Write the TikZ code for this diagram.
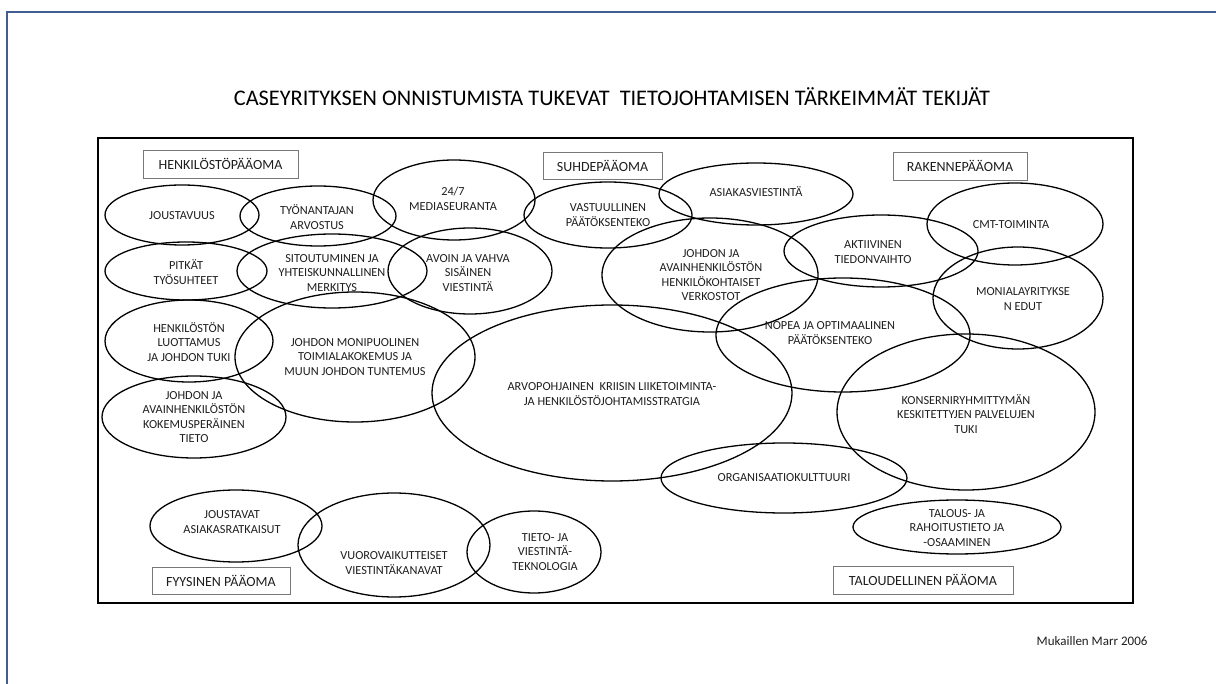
\documentclass[tikz,border=0pt]{standalone}
\usepackage{fontspec}
\setmainfont{Carlito}
\usetikzlibrary{shapes.geometric}
\definecolor{slideline}{RGB}{68,93,145}
\definecolor{txt}{RGB}{30,30,30}
\definecolor{boxline}{RGB}{120,120,120}
\tikzset{
  bub/.style={draw=black, line width=1.3pt, ellipse, inner sep=0pt},
  lbl/.style={text=txt, align=center, inner sep=0pt,
    font=\fontsize{12.3}{14.6}\selectfont},
  capbox/.style={draw=boxline, line width=0.9pt, inner sep=0pt, text=txt,
    font=\fontsize{14}{16}\selectfont}
}
\newcommand{\bubble}[7]{%
  % name, centre x, centre y, half width, half height, label x/y, text
  \node[bub, minimum width=#4*2pt, minimum height=#5*2pt] (#1) at (#2,#3) {};
  \node[lbl] (#1-t) at (#6) {#7};
}
\begin{document}
\begin{tikzpicture}[x=1pt, y=-1pt]
\useasboundingbox (0,0) rectangle (1216,684);
% slide edge
\coordinate (sl-a) at (7,684);
\coordinate (sl-b) at (7,12);
\coordinate (sl-c) at (1216,12);
\draw[slideline, line width=2pt] (sl-a) -- (sl-b) -- (sl-c);

% title
\node[text=black, font=\fontsize{22.3}{25}\selectfont] (title) at (612,97)
  {CASEYRITYKSEN ONNISTUMISTA TUKEVAT \ TIETOJOHTAMISEN TÄRKEIMMÄT TEKIJÄT};

% outer frame
\node[draw=black, line width=1.6pt, minimum width=1035pt, minimum height=465pt,
  inner sep=0pt] (frame) at (615.5,370.5) {};

% capital headings
\node[capbox, minimum width=155pt, minimum height=28pt] (hp) at (220.5,164) {HENKILÖSTÖPÄÄOMA};
\node[capbox, minimum width=119pt, minimum height=27pt] (sp) at (602.5,166) {SUHDEPÄÄOMA};
\node[capbox, minimum width=134pt, minimum height=28pt] (rp) at (960,166) {RAKENNEPÄÄOMA};
\node[capbox, minimum width=138pt, minimum height=27pt] (fp) at (221,580.5) {FYYSINEN PÄÄOMA};
\node[capbox, minimum width=180pt, minimum height=28pt] (tp) at (923,580) {TALOUDELLINEN PÄÄOMA};

% factors
\bubble{e1}{182}{215}{77}{30}{182,216}{JOUSTAVUUS}
\bubble{e2}{318}{216}{78}{30}{317,217}{TYÖNANTAJAN\\ARVOSTUS}
\bubble{e3}{454}{200}{81}{40}{453,199}{24/7\\MEDIASEURANTA}
\bubble{e4}{608}{215}{84}{33}{608,215}{VASTUULLINEN\\PÄÄTÖKSENTEKO}
\bubble{e5}{756}{194}{97}{31}{756,192}{ASIAKASVIESTINTÄ}
\bubble{e6}{1015}{224}{88}{41}{1011,225}{CMT-TOIMINTA}
\bubble{e7}{881}{251}{97}{36}{873,252}{AKTIIVINEN\\TIEDONVAIHTO}
\bubble{e8}{332}{271}{95}{37}{332,273}{SITOUTUMINEN JA\\YHTEISKUNNALLINEN\\MERKITYS}
\bubble{e9}{470}{271}{82}{43}{468,273}{AVOIN JA VAHVA\\SISÄINEN\\VIESTINTÄ}
\bubble{e10}{186}{271}{81}{29}{186,272}{PITKÄT\\TYÖSUHTEET}
\bubble{e11}{710}{275}{108}{57}{711,275}{JOHDON JA\\AVAINHENKILÖSTÖN\\HENKILÖKOHTAISET\\VERKOSTOT}
\bubble{e12}{1018}{298}{85}{51}{1023,299}{MONIALAYRITYKSE\\N EDUT}
\bubble{e13}{843}{335}{127}{57}{830,333}{NOPEA JA OPTIMAALINEN\\PÄÄTÖKSENTEKO}
\bubble{e14}{189}{341}{84}{41}{189,342}{HENKILÖSTÖN\\LUOTTAMUS\\JA JOHDON TUKI}
\bubble{e15}{355}{357}{120}{65}{355,357}{JOHDON MONIPUOLINEN\\TOIMIALAKOKEMUS JA\\MUUN JOHDON TUNTEMUS}
\bubble{e16}{194}{417}{92}{41}{194,417}{JOHDON JA\\AVAINHENKILÖSTÖN\\KOKEMUSPERÄINEN\\TIETO}
\bubble{e17}{612}{393}{180}{88}{612,394}{ARVOPOHJAINEN \ KRIISIN LIIKETOIMINTA-\\JA HENKILÖSTÖJOHTAMISSTRATGIA}
\bubble{e18}{966}{412}{129}{78}{966,414}{KONSERNIRYHMITTYMÄN\\KESKITETTYJEN PALVELUJEN\\TUKI}
\bubble{e19}{784}{478}{123}{35}{784,478}{ORGANISAATIOKULTTUURI}
\bubble{e20}{957}{527}{104}{27}{957,528}{TALOUS- JA\\RAHOITUSTIETO JA\\-OSAAMINEN}
\bubble{e21}{236}{526}{86}{36}{232,522}{JOUSTAVAT\\ASIAKASRATKAISUT}
\bubble{e22}{394}{545}{96}{52}{394,563}{VUOROVAIKUTTEISET\\VIESTINTÄKANAVAT}
\bubble{e23}{534}{552}{67}{41}{545,552}{TIETO- JA\\VIESTINTÄ-\\TEKNOLOGIA}

% source
\node[anchor=east, text=txt, font=\fontsize{13}{15}\selectfont] (src) at (1151,641) {Mukaillen Marr 2006};
\end{tikzpicture}
\end{document}
